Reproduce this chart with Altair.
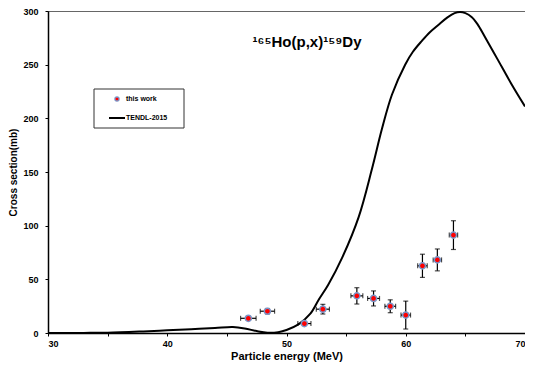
import altair as alt
import pandas as pd

# Measured data (this work)
energy = [46.8, 48.4, 51.5, 53.05, 55.9, 57.3, 58.7, 60.0, 61.4, 62.65, 64.0]
energy_err = [0.65, 0.6, 0.55, 0.55, 0.5, 0.5, 0.45, 0.4, 0.4, 0.35, 0.35]
xs = [13.7, 20.3, 8.8, 22.2, 34.6, 32.2, 24.9, 16.7, 62.6, 68.1, 91.2]
xs_err = [1.8, 2.5, 1.5, 4.5, 7.6, 7.0, 6.0, 13.0, 10.8, 10.2, 13.4]

# TENDL-2015 curve
tendl_e = [30, 33, 35, 38, 40, 42, 44, 45.5, 46.5, 47.5, 48.4, 49.3, 50, 51, 52, 52.7, 53.5,
           54.66, 56.05, 57.17, 58.0, 58.84, 59.95, 60.6, 61.34, 62.0, 62.73, 63.5, 64.1,
           64.55, 65.0, 65.52, 66.0, 66.63, 67.75, 68.86, 70]
tendl_cs = [0, 0.1, 0.3, 1.5, 2.5, 3.6, 4.6, 5.5, 4.2, 1.8, 0.3, 0.8, 2.8, 8, 18, 31, 45,
            70, 108, 153, 190, 222, 250, 262, 272, 280, 287, 294, 298, 299, 298, 294.5,
            288, 276, 254, 232, 211]

title_text = "¹⁶⁵Ho(p,x)¹⁵⁹Dy"
legend_labels = ["this work", "TENDL-2015"]

FONT = "Liberation Sans"

pts = pd.DataFrame({"e": energy, "ee": energy_err, "cs": xs, "ce": xs_err})
pts["elo"] = pts.e - pts.ee
pts["ehi"] = pts.e + pts.ee
pts["clo"] = pts.cs - pts.ce
pts["chi"] = pts.cs + pts.ce
curve = pd.DataFrame({"e": tendl_e, "cs": tendl_cs})

xscale = alt.Scale(domain=[30, 70], nice=False, zero=False)
yscale = alt.Scale(domain=[0, 300], nice=False)

xax = alt.Axis(title="Particle  energy (MeV)", values=list(range(30, 71, 5)),
               labelExpr="datum.value % 10 == 0 ? datum.label : ''",
               grid=False, domainColor="black", domainWidth=1.5, tickColor="black",
               tickSize=3, labelFont=FONT, labelFontWeight="bold", labelFontSize=9,
               labelColor="black", titleFont=FONT, titleFontWeight="bold",
               titleFontSize=11, titleColor="black", labelPadding=3, titlePadding=2)
yax = alt.Axis(title="Cross section(mb)", values=list(range(0, 301, 50)),
               grid=False, domainColor="black", domainWidth=1.5, tickColor="black",
               tickSize=3, labelFont=FONT, labelFontWeight="bold", labelFontSize=9,
               labelColor="black", titleFont=FONT, titleFontWeight="bold",
               titleFontSize=10, titleColor="black", labelPadding=7, titlePadding=4)

line = alt.Chart(curve).mark_line(color="black", strokeWidth=2,
                                  interpolate="catmull-rom").encode(
    x=alt.X("e:Q", scale=xscale, axis=xax),
    y=alt.Y("cs:Q", scale=yscale, axis=yax),
)

base = alt.Chart(pts)
vbar = base.mark_rule(color="black", strokeWidth=1.2).encode(
    x="e:Q", y="clo:Q", y2="chi:Q")
hbar = base.mark_rule(color="black", strokeWidth=1.2).encode(
    y="cs:Q", x="elo:Q", x2="ehi:Q")
vcap_lo = base.mark_tick(color="black", orient="horizontal", size=5, thickness=1.2).encode(
    x="e:Q", y="clo:Q")
vcap_hi = base.mark_tick(color="black", orient="horizontal", size=5, thickness=1.2).encode(
    x="e:Q", y="chi:Q")
hcap_lo = base.mark_tick(color="black", orient="vertical", size=5, thickness=1.2).encode(
    x="elo:Q", y="cs:Q")
hcap_hi = base.mark_tick(color="black", orient="vertical", size=5, thickness=1.2).encode(
    x="ehi:Q", y="cs:Q")
dots = base.mark_point(shape="circle", filled=True, fill="red", stroke="#7b96c8",
                       strokeWidth=1.5, size=38, opacity=1).encode(x="e:Q", y="cs:Q")

title = alt.Chart(pd.DataFrame({"t": [title_text]})).mark_text(
    font=FONT, fontWeight="bold", fontSize=15, color="black", align="center",
    baseline="alphabetic").encode(text="t:N", x=alt.value(259), y=alt.value(36))

# Legend (decoration)
leg_box = alt.Chart(pd.DataFrame({"a": [0]})).mark_rect(
    fill="white", stroke="#333", strokeWidth=1).encode(
    x=alt.value(46), x2=alt.value(136), y=alt.value(78), y2=alt.value(117))
leg_dot = alt.Chart(pd.DataFrame({"a": [0]})).mark_point(
    shape="circle", filled=True, fill="red", stroke="#7b96c8", strokeWidth=1.2,
    size=18, opacity=1).encode(x=alt.value(69), y=alt.value(88))
leg_line = alt.Chart(pd.DataFrame({"a": [0]})).mark_rule(
    color="black", strokeWidth=2).encode(x=alt.value(61), x2=alt.value(77), y=alt.value(107))
leg_t1 = alt.Chart(pd.DataFrame({"t": [legend_labels[0]]})).mark_text(
    font=FONT, fontWeight="bold", fontSize=7, color="black", align="left",
    baseline="middle").encode(text="t:N", x=alt.value(78), y=alt.value(88))
leg_t2 = alt.Chart(pd.DataFrame({"t": [legend_labels[1]]})).mark_text(
    font=FONT, fontWeight="bold", fontSize=7, color="black", align="left",
    baseline="middle").encode(text="t:N", x=alt.value(78), y=alt.value(107))

chart = alt.layer(
    line, vbar, hbar, vcap_lo, vcap_hi, hcap_lo, hcap_hi, dots, title,
    leg_box, leg_dot, leg_line, leg_t1, leg_t2,
).properties(
    width=477, height=322,
    autosize=alt.AutoSizeParams(type="none"),
    padding={"left": 40, "top": 3, "right": 0, "bottom": 29},
    background="white",
).configure_view(stroke="#666", strokeWidth=1)

chart.save("out.html", embed_options={"renderer": "svg", "actions": False})
